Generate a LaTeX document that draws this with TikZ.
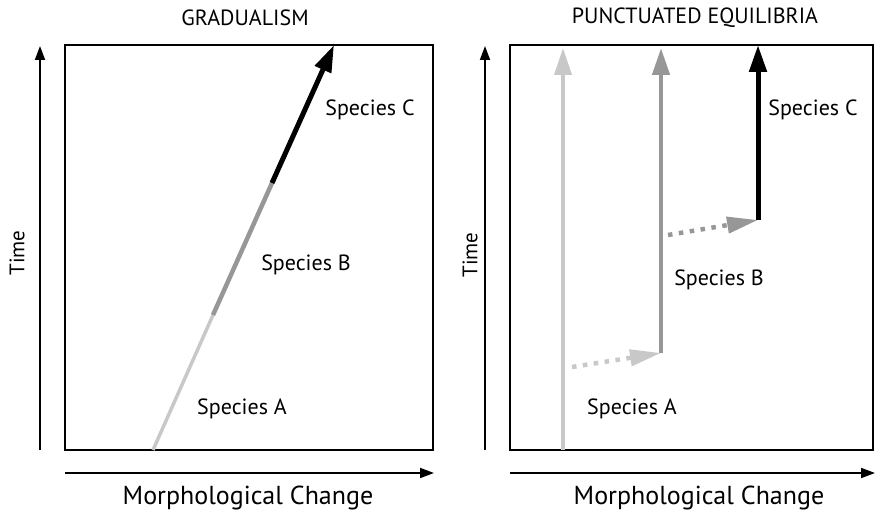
\documentclass[tikz,border=0pt]{standalone}
\usepackage{fontspec}
\setmainfont{PT Sans}
\usetikzlibrary{arrows.meta}
\definecolor{lightg}{HTML}{C8C8C8}
\definecolor{midg}{HTML}{979797}
\tikzset{
  panel/.style={draw=black, line width=2.8pt},
  axis/.style={line width=1.8pt, -{Triangle[length=14pt,width=10pt]}},
  lbl/.style={font=\fontsize{22}{26}\selectfont, inner sep=0pt},
  tlbl/.style={font=\fontsize{21}{25}\selectfont, inner sep=0pt},
  mlbl/.style={font=\fontsize{26}{30}\selectfont, inner sep=0pt},
  ttl/.style={font=\fontsize{22}{26}\selectfont, inner sep=0pt},
  bigtip/.style={-{Triangle[length=27pt,width=17pt]}},
  dotarrow/.style={line width=4.5pt, dash pattern=on 4.5pt off 6.5pt, -{Triangle[length=31pt,width=16pt]}}
}
\begin{document}
\begin{tikzpicture}[x=1pt,y=-1pt]
\useasboundingbox (0,0) rectangle (875,513);
% ---------- left panel ----------
\node[ttl] (t1) at (245,18) {GRADUALISM};
\draw[panel] (65,45) rectangle (433,450);
\coordinate (ly0) at (40,450);
\coordinate (ly1) at (40,46);
\draw[axis] (ly0) -- (ly1);
\node[tlbl, rotate=90] (time1) at (17,253) {Time};
\coordinate (lx0) at (65,473);
\coordinate (lx1) at (434,473);
\draw[axis] (lx0) -- (lx1);
\node[mlbl] (mc1) at (248,498) {Morphological Change};
\coordinate (g0) at (153,450);
\coordinate (g1) at (213,315);
\coordinate (g2) at (272,183);
\coordinate (g3) at (334,45);
\draw[lightg, line width=3.5pt] (g0) -- (g1);
\draw[midg, line width=4.5pt] (g1) -- (g2);
\draw[black, line width=5pt, bigtip] (g2) -- (g3);
\node[lbl] (sc1) at (370,110) {Species C};
\node[lbl] (sb1) at (306,265) {Species B};
\node[lbl] (sa1) at (242,409) {Species A};
% ---------- right panel ----------
\node[ttl] (t2) at (695,18) {PUNCTUATED EQUILIBRIA};
\draw[panel] (510,45) rectangle (873,450);
\coordinate (ry0) at (485,450);
\coordinate (ry1) at (485,46);
\draw[axis] (ry0) -- (ry1);
\node[tlbl, rotate=90] (time2) at (470,255) {Time};
\coordinate (rx0) at (510,473);
\coordinate (rx1) at (875,473);
\draw[axis] (rx0) -- (rx1);
\node[mlbl] (mc2) at (699,498) {Morphological Change};
\coordinate (a0) at (563,450);
\coordinate (a1) at (563,48);
\draw[lightg, line width=4pt, bigtip] (a0) -- (a1);
\coordinate (b0) at (661,353);
\coordinate (b1) at (661,48);
\draw[midg, line width=4.5pt, bigtip] (b0) -- (b1);
\coordinate (c0) at (758,220);
\coordinate (c1) at (758,45);
\draw[black, line width=5pt, bigtip] (c0) -- (c1);
\coordinate (d0) at (572,367);
\draw[lightg, dotarrow] (d0) -- (b0);
\coordinate (e0) at (668,235);
\draw[midg, dotarrow] (e0) -- (c0);
\node[lbl] (sc2) at (813,110) {Species C};
\node[lbl] (sb2) at (719,280) {Species B};
\node[lbl] (sa2) at (632,409) {Species A};
\end{tikzpicture}
\end{document}
